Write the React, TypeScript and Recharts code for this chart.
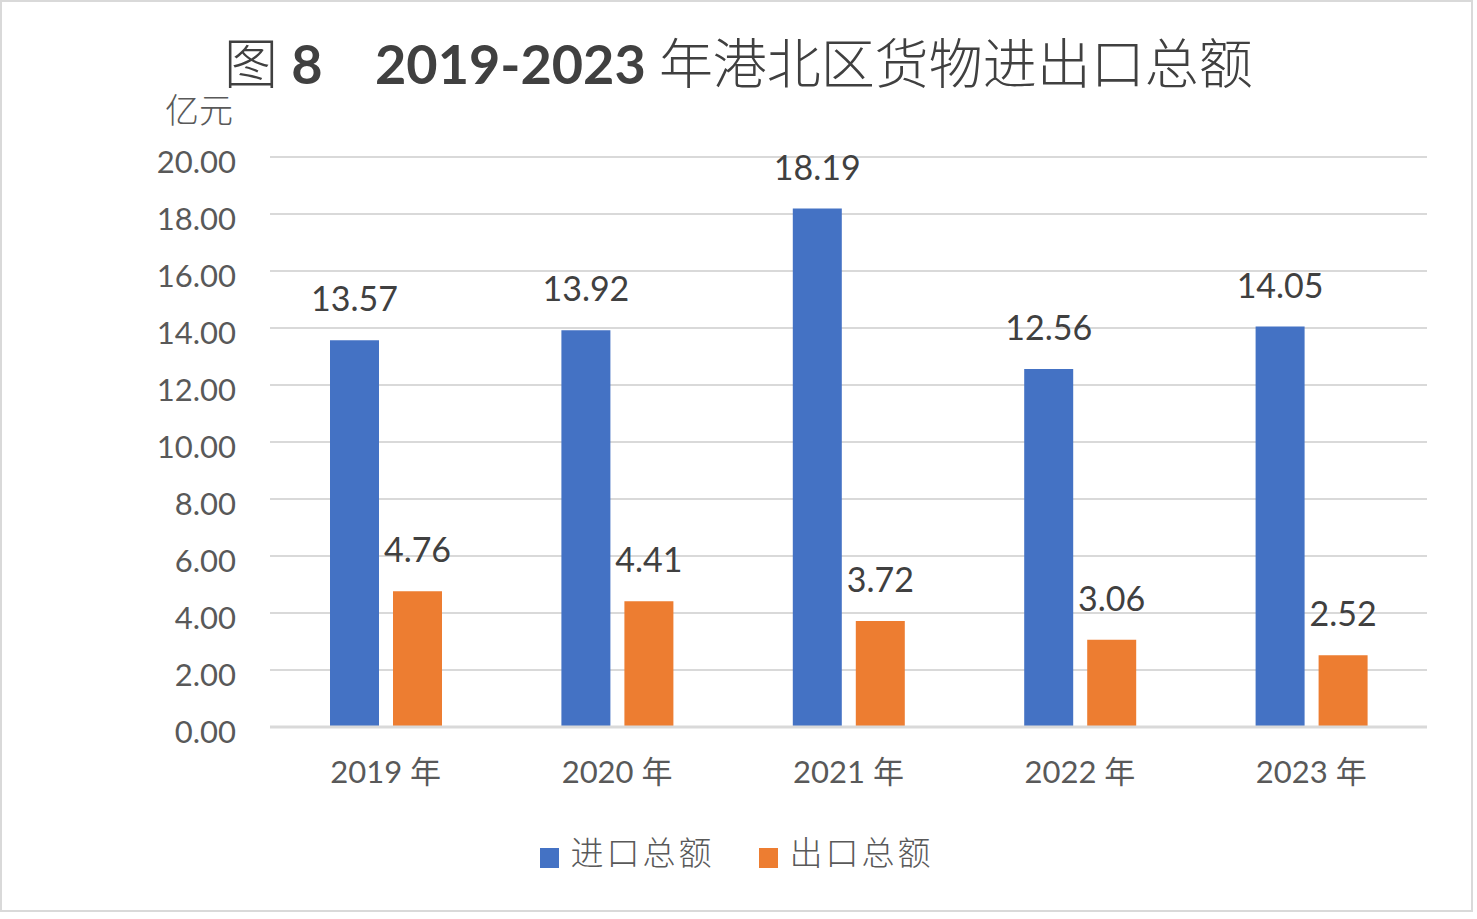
import React from 'react';
import { BarChart, Bar, XAxis, YAxis, CartesianGrid, Legend, LabelList } from 'recharts';

const years = ['2019 年', '2020 年', '2021 年', '2022 年', '2023 年'];
const importTotal = [13.57, 13.92, 18.19, 12.56, 14.05];
const exportTotal = [4.76, 4.41, 3.72, 3.06, 2.52];
const yTicks = [0, 2, 4, 6, 8, 10, 12, 14, 16, 18, 20];

const font = "Lato, 'Noto Sans CJK SC', sans-serif";
const cjk = "'Noto Sans CJK SC', sans-serif";

const data = years.map((year, i) => ({
  year,
  imp: importTotal[i],
  exp: exportTotal[i],
}));

const seriesLabels = [
  { key: 'imp', name: '进口总额', color: '#4472C4' },
  { key: 'exp', name: '出口总额', color: '#ED7D31' },
];

const LegendRow = () => (
  <div
    style={{
      height: 90,
      display: 'flex',
      justifyContent: 'center',
      alignItems: 'flex-start',
      paddingTop: 5,
      boxSizing: 'border-box',
    }}
  >
    {seriesLabels.map((s) => (
      <div key={s.key} style={{ display: 'flex', alignItems: 'center', margin: '0 22px' }}>
        <div style={{ width: 19, height: 20, background: s.color, marginTop: 14, marginRight: 12 }} />
        <span style={{ fontFamily: cjk, fontSize: 33, color: '#595959', letterSpacing: 3, fontWeight: 300 }}>
          {s.name}
        </span>
      </div>
    ))}
  </div>
);

const App = () => {
  return (
    <div
      style={{
        position: 'absolute',
        left: 0,
        top: 0,
        width: 1473,
        height: 912,
        border: '2px solid #d9d9d9',
        boxSizing: 'border-box',
        background: '#fff',
      }}
    >
      <div
        style={{
          position: 'absolute',
          left: 0,
          top: 24,
          width: 1473,
          textAlign: 'center',
          color: '#404040',
          fontSize: 54,
          whiteSpace: 'pre',
          lineHeight: '70px',
        }}
      >
        <span style={{ fontFamily: cjk, fontWeight: 300 }}>图</span>
        <span style={{ fontFamily: font, fontWeight: 700 }}>{' 8    2019-2023 '}</span>
        <span style={{ fontFamily: cjk, fontWeight: 300 }}>年港北区货物进出口总额</span>
      </div>
      <div
        style={{
          position: 'absolute',
          left: 163,
          top: 82,
          fontFamily: cjk,
          fontSize: 34,
          color: '#595959',
          fontWeight: 300,
        }}
      >
        亿元
      </div>
      <div style={{ position: 'absolute', left: -2, top: -2 }}>
        <BarChart
          width={1473}
          height={912}
          data={data}
          margin={{ top: 157, right: 46, bottom: 0, left: 0 }}
          barGap={14}
        >
          <CartesianGrid vertical={false} stroke="#d9d9d9" strokeWidth={2} />
          <XAxis
            dataKey="year"
            height={95}
            axisLine={{ stroke: '#d9d9d9', strokeWidth: 3 }}
            tickLine={false}
            tickSize={0}
            tickMargin={34}
            tick={{ fill: '#595959', fontSize: 31, fontFamily: font }}
          />
          <YAxis
            width={270}
            domain={[0, 20]}
            ticks={yTicks}
            axisLine={false}
            tickLine={false}
            tickSize={0}
            tickMargin={34}
            tickFormatter={(v: number) => v.toFixed(2)}
            tick={{ fill: '#595959', fontSize: 31, fontFamily: font, dy: 5 }}
          />
          <Legend
            verticalAlign="bottom"
            content={() => <LegendRow />}
            wrapperStyle={{ left: 0, width: 1473 }}
          />
          {seriesLabels.map((s) => (
            <Bar key={s.key} dataKey={s.key} name={s.name} fill={s.color} barSize={49} isAnimationActive={false}>
              <LabelList
                dataKey={s.key}
                position="top"
                offset={29}
                formatter={(v: number) => v.toFixed(2)}
                style={{ fill: '#404040', fontSize: 34, fontFamily: font }}
              />
            </Bar>
          ))}
        </BarChart>
      </div>
    </div>
  );
};

export default App;
